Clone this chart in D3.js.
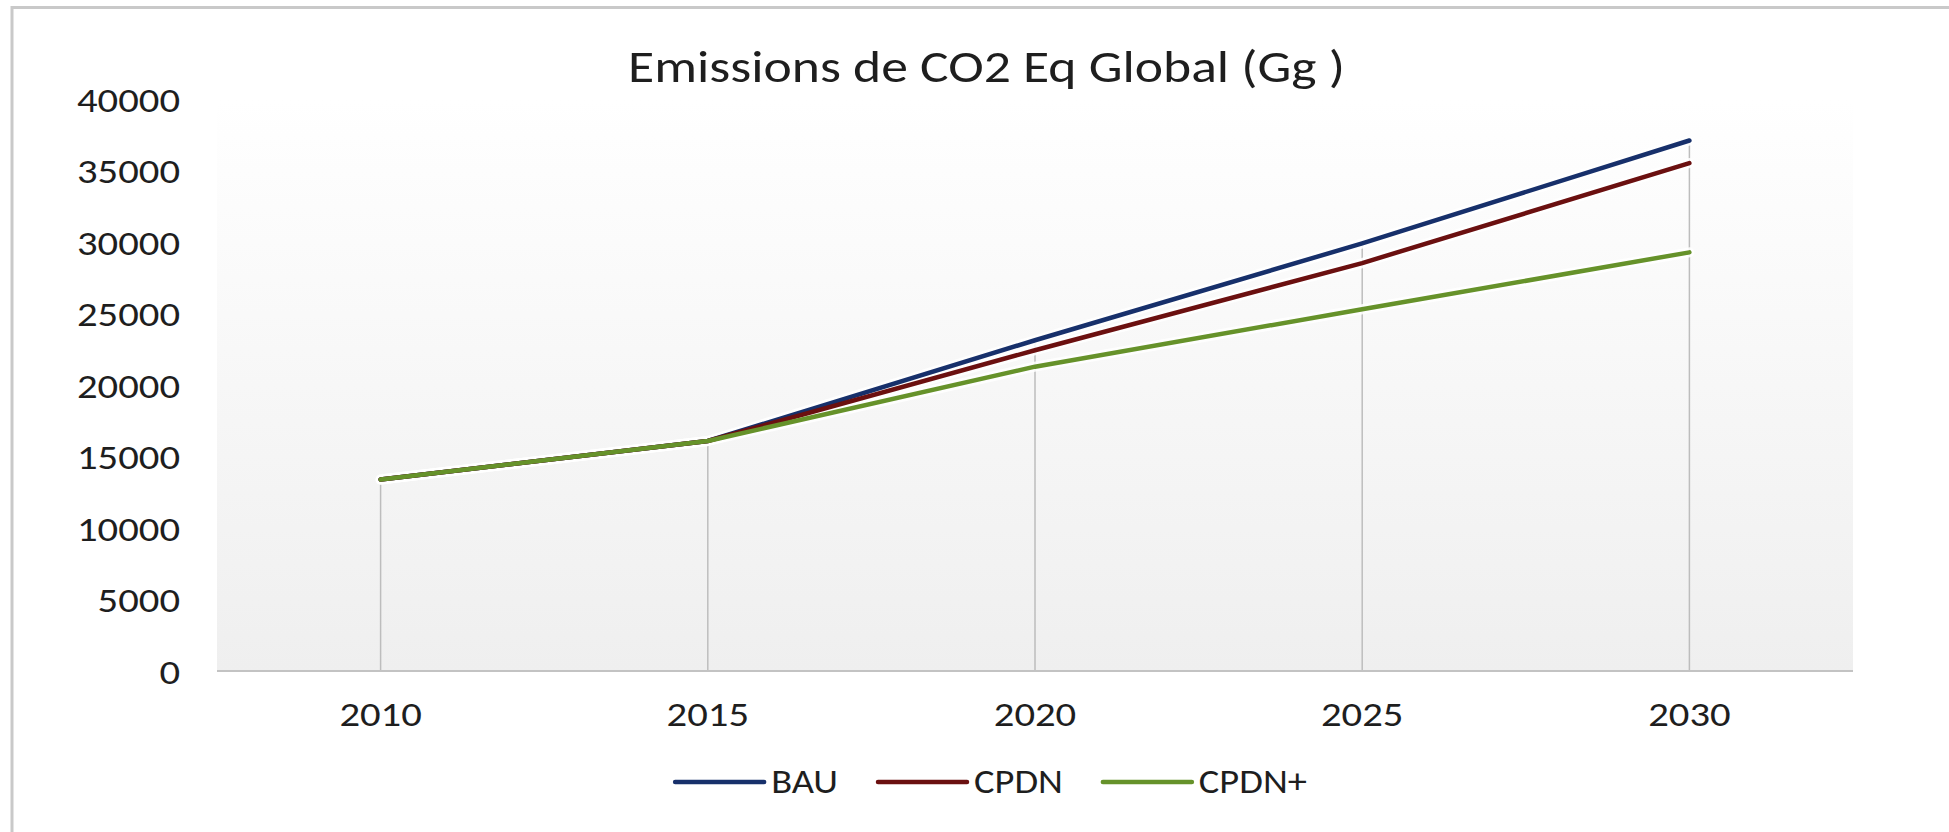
<!DOCTYPE html>
<html>
<head>
<meta charset="utf-8">
<script src="https://cdn.jsdelivr.net/npm/d3@7"></script>
<style>
  html, body { margin: 0; padding: 0; background: #fff; overflow: hidden; }
  svg { display: block; }
  text { font-family: Carlito, Calibri, Lato, "Open Sans", sans-serif; fill: #1e1e1e; font-weight: 400; }
</style>
</head>
<body>
<svg id="chart" width="1949" height="832"></svg>
<script>
// ---- data ----
const categories = ["2010", "2015", "2020", "2025", "2030"];
const seriesNames = ["BAU", "CPDN", "CPDN+"];
const bauValues   = [13400, 16100, 23150, 29930, 37130];
const cpdnValues  = [13400, 16100, 22450, 28550, 35550];
const cpdnPlusValues = [13400, 16100, 21300, 25320, 29300];
const yTicks = [0, 5000, 10000, 15000, 20000, 25000, 30000, 35000, 40000];
const titleText = "Emissions de CO2 Eq Global (Gg )";
const seriesColors = ["#17306b", "#6b1010", "#66922a"];

const series = [
  { name: seriesNames[0], values: bauValues, color: seriesColors[0] },
  { name: seriesNames[1], values: cpdnValues, color: seriesColors[1] },
  { name: seriesNames[2], values: cpdnPlusValues, color: seriesColors[2] }
];

// ---- layout ----
const FONT = 'Carlito, Calibri, Lato, "Open Sans", sans-serif';
const plot = { left: 217, right: 1853, top: 99.5, bottom: 671 };
const svg = d3.select("#chart");

// glyph-height based font sizing
const ctx = document.createElement("canvas").getContext("2d");
function sizeFor(glyph, targetHeight) {
  ctx.font = `400 100px ${FONT}`;
  const m = ctx.measureText(glyph);
  const h = m.actualBoundingBoxAscent + m.actualBoundingBoxDescent;
  return h > 0 ? targetHeight * 100 / h : targetHeight / 0.68;
}
function measure(str, size) {
  const t = svg.append("text").attr("font-size", size).text(str);
  const w = t.node().getComputedTextLength();
  t.remove();
  return w;
}

// outer frame (right & bottom clipped like in the reference)
svg.append("rect")
  .attr("x", 12).attr("y", 7.5)
  .attr("width", 4000).attr("height", 4000)
  .attr("fill", "#fff")
  .attr("stroke", "#c9c9c9").attr("stroke-width", 3);

// scales
const x = d3.scaleBand().domain(categories).range([plot.left, plot.right]).paddingInner(0).paddingOuter(0);
const cx = c => x(c) + x.bandwidth() / 2;
const y = d3.scaleLinear().domain([0, 40000]).range([plot.bottom, plot.top]);

// plot background gradient
const defs = svg.append("defs");
const grad = defs.append("linearGradient").attr("id", "bg").attr("x1", 0).attr("y1", 0).attr("x2", 0).attr("y2", 1);
grad.append("stop").attr("offset", "0%").attr("stop-color", "#ffffff");
grad.append("stop").attr("offset", "100%").attr("stop-color", "#efefef");
svg.append("rect")
  .attr("x", plot.left).attr("y", y(40000))
  .attr("width", plot.right - plot.left).attr("height", y(0) - y(40000))
  .attr("fill", "url(#bg)");

// drop lines
const maxVals = categories.map((c, i) => d3.max(series, s => s.values[i]));
svg.append("g").selectAll("line").data(categories).join("line")
  .attr("x1", d => cx(d)).attr("x2", d => cx(d))
  .attr("y1", (d, i) => y(maxVals[i])).attr("y2", y(0))
  .attr("stroke", "#bdbdbd").attr("stroke-width", 1.5);

// x axis line
svg.append("line")
  .attr("x1", plot.left).attr("x2", plot.right)
  .attr("y1", y(0)).attr("y2", y(0))
  .attr("stroke", "#c3c3c3").attr("stroke-width", 2);

// lines
const line = d3.line().x((d, i) => cx(categories[i])).y(d => y(d));
const lg = svg.append("g");
series.forEach(s => {
  lg.append("path").attr("d", line(s.values))
    .attr("fill", "none").attr("stroke", "#ffffff").attr("stroke-opacity", 0.85)
    .attr("stroke-width", 10).attr("stroke-linejoin", "round").attr("stroke-linecap", "round");
});
series.forEach(s => {
  lg.append("path").attr("d", line(s.values))
    .attr("fill", "none").attr("stroke", s.color)
    .attr("stroke-width", 4.5).attr("stroke-linejoin", "round").attr("stroke-linecap", "round");
});

// axis labels
const labelSize = sizeFor("0", 23);
const kLabel = 103 / measure("40000", labelSize);

const yAxis = svg.append("g")
  .attr("transform", `translate(${plot.left},0)`)
  .call(d3.axisLeft(y).tickValues(yTicks).tickSize(0).tickFormat(d3.format("d")));
yAxis.select(".domain").remove();
yAxis.selectAll("text")
  .attr("font-size", labelSize).attr("font-family", null).attr("fill", "#1e1e1e")
  .attr("text-anchor", "end")
  .attr("x", -37 / kLabel).attr("dy", "0.35em")
  .attr("transform", `scale(${kLabel},1)`);

const xAxis = svg.append("g")
  .attr("transform", `translate(0,${plot.bottom})`)
  .call(d3.axisBottom(x).tickSize(0));
xAxis.select(".domain").remove();
xAxis.selectAll("text")
  .attr("font-size", labelSize).attr("font-family", null).attr("fill", "#1e1e1e")
  .attr("y", 55).attr("dy", 0)
  .attr("transform", `scale(${kLabel},1)`);

// title
const titleSize = sizeFor("E", 29);
const kTitle = 717 / measure(titleText, titleSize);
svg.append("text")
  .attr("transform", `translate(986.5,82) scale(${kTitle},1)`)
  .attr("text-anchor", "middle")
  .attr("font-size", titleSize)
  .text(titleText);

// legend
const legSize = sizeFor("B", 22);
const kLeg = 108 / measure("CPDN+", legSize);
const lineLen = 89, gapText = 7, gapItem = 40;
const widths = series.map(s => measure(s.name, legSize) * kLeg);
const total = d3.sum(widths) + series.length * (lineLen + gapText) + (series.length - 1) * gapItem;
let lx = 991 - total / 2;
const legY = 782;
const leg = svg.append("g");
series.forEach((s, i) => {
  leg.append("line")
    .attr("x1", lx).attr("x2", lx + lineLen).attr("y1", legY).attr("y2", legY)
    .attr("stroke", s.color).attr("stroke-width", 4.5).attr("stroke-linecap", "round");
  leg.append("text")
    .attr("transform", `translate(${lx + lineLen + gapText},${legY + 11}) scale(${kLeg},1)`)
    .attr("font-size", legSize)
    .text(s.name);
  lx += lineLen + gapText + widths[i] + gapItem;
});
</script>
</body>
</html>
